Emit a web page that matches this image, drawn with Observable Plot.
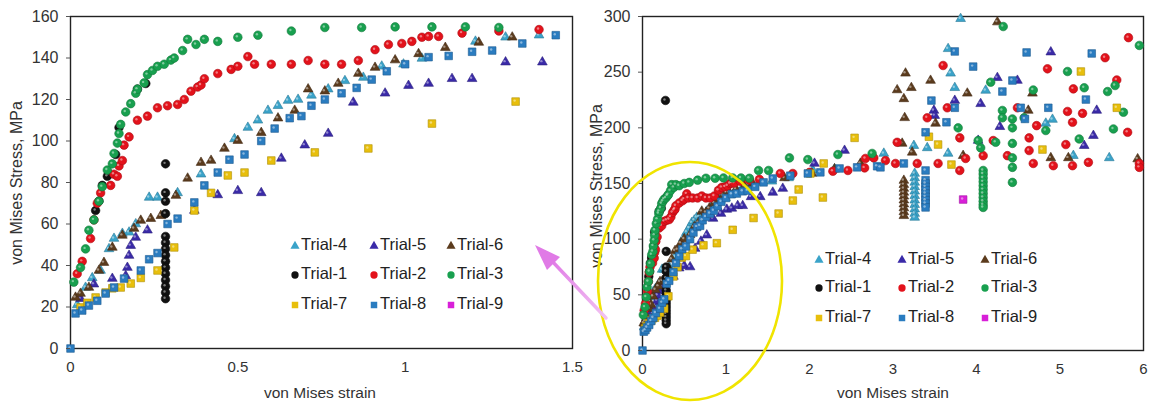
<!DOCTYPE html>
<html><head><meta charset="utf-8">
<script src="https://cdn.jsdelivr.net/npm/d3@7"></script>
<script src="https://cdn.jsdelivr.net/npm/@observablehq/plot@0.6"></script>
<style>
body{margin:0;background:#fff;}
#wrap{position:relative;width:1151px;height:407px;overflow:hidden;background:#fff;font-family:"Liberation Sans",Arial,sans-serif;}
#wrap > svg{position:absolute;top:0;}
</style></head><body><div id="wrap"></div>
<script>
// ---- series (von Mises strain, von Mises stress in MPa) ----
const trials  = ["Trial-4","Trial-5","Trial-6","Trial-1","Trial-2","Trial-3","Trial-7","Trial-8","Trial-9"];
const colors  = ["#3aa3c9","#3a2aa8","#5b3b1d","#111111","#e3121b","#18a04f","#e8bf0c","#2a7cc0","#d81fd8"];
const symbols = ["triangle","triangle","triangle","circle","circle","circle","square","square","square"];

const trial1 = [[0.075,66.5],[0.085,71],[0.095,78.6],[0.11,83],[0.115,84],[0.135,93.5],[0.145,106.5],[0.2,125],[0.225,127.7],
  [0.284,89],[0.284,75],[0.284,71],[0.284,65],[0.284,54],[0.284,51],[0.284,48],[0.284,45],[0.284,42],[0.284,39],[0.284,36],
  [0.284,33],[0.284,30],[0.284,27],[0.284,24],[0.275,224.6]];
const trial2 = [[0.02,36],[0.035,42],[0.06,53],[0.07,62],[0.08,70],[0.09,75],[0.12,78.6],[0.13,84],[0.14,83],[0.145,88],[0.155,90.6],
  [0.16,98],[0.175,102],[0.2,110],[0.23,112],[0.26,116],[0.29,117],[0.32,117.6],[0.34,120],[0.36,124],[0.38,126],[0.39,127],[0.4,130],
  [0.44,132.5],[0.48,134.5],[0.5,136],[0.53,140.7],[0.55,137],[0.6,137],[0.66,137],[0.71,138.8],[0.76,137],[0.81,137],[0.86,138.8],
  [0.91,144],[0.95,146.5],[0.99,147],[1.02,148],[1.05,150],[1.07,150.4],[1.1,150.4],[1.17,152],[1.28,153],[1.4,153.7],
  [1.65,159],[1.8,159],[2.0,160],[2.28,161],[2.46,161.7],[2.66,164],[2.67,172.5],[2.77,173],[2.91,170.6],[3.03,168],[3.05,187],
  [3.29,168],[3.41,209],[3.54,168],[3.6,256],[3.65,218],[3.8,191],[3.8,161.7],[3.87,172.5],[4.08,175],[4.2,188.6],[4.37,175],
  [4.49,218],[4.63,191],[4.63,179.6],[4.68,168],[4.72,202],[4.85,253],[4.92,166],[5.07,185],[5.09,214.7],[5.15,205],[5.15,166],
  [5.16,235],[5.27,213],[5.34,169],[5.54,263],[5.68,243],[5.81,196],[5.82,281],[5.95,168],[5.95,164.5]];
const trial3 = [[0.01,32],[0.03,39],[0.045,48],[0.055,57],[0.07,62],[0.085,71],[0.095,78],[0.11,86],[0.125,89],[0.13,94],[0.14,99],
  [0.145,103.6],[0.15,108],[0.165,114],[0.18,118],[0.195,123],[0.2,125],[0.22,128],[0.23,132],[0.245,134],[0.26,136],[0.28,137],
  [0.3,139],[0.31,140],[0.335,143.6],[0.35,149],[0.375,146.5],[0.4,149],[0.44,148],[0.5,150],[0.56,151],[0.66,153],[0.76,154.7],
  [0.87,154.7],[0.97,155],[1.08,155],[1.18,155],[1.28,154.7],[1.39,161.7],[1.51,161.7],[1.76,173],[1.98,171.5],[2.34,176],[2.75,177],
  [3.78,200],[4.02,188.6],[4.05,182],[4.08,161.7],[4.08,158.5],[4.08,155],[4.08,151.5],[4.08,148],[4.08,144.5],[4.08,141],[4.08,137.5],
  [4.08,134],[4.08,131],[4.08,128.5],[4.17,241],[4.23,187],[4.31,215.6],[4.31,209],[4.32,291],[4.43,208],[4.43,200],[4.43,186],
  [4.43,173],[4.43,164.5],[4.43,151],[4.57,209],[4.68,234],[4.83,197.6],[5.09,250.6],[5.23,190],[5.29,236],[5.57,232.6],[5.64,199],
  [5.66,238],[5.76,214],[5.95,274]];
const trial4 = [[0.02,21],[0.045,29.4],[0.065,34],[0.09,37.6],[0.115,48],[0.13,53],[0.155,55.4],[0.175,56],[0.195,60],[0.235,72.8],
  [0.26,72.8],[0.32,75],[0.39,84],[0.49,101],[0.53,106.5],[0.56,110],[0.59,114.7],[0.62,117],[0.65,119.5],[0.68,120],[0.72,122],
  [0.77,125],[0.82,129],[0.875,130.6],[0.93,136],[0.995,137],[1.05,139.8],[1.21,148],[1.3,150],[1.4,151],[1.55,152],[1.75,155],
  [2.04,162],[2.3,163],[2.59,165],[2.89,177],[3.25,184],[3.26,159],[3.26,155],[3.26,151],[3.26,147],[3.26,143],[3.26,139],[3.26,135],
  [3.26,131],[3.26,127],[3.26,123],[3.26,119.5],[3.41,182],[3.66,271],[3.66,177],[3.69,249],[3.74,236],[3.81,298],[4.11,233.6],
  [4.83,204],[4.91,207.5],[5.16,175],[5.59,173]];
const trial5 = [[0.03,24],[0.07,31],[0.125,33.7],[0.165,35],[0.17,39],[0.175,44.8],[0.18,49.6],[0.195,53.5],[0.23,57],[0.37,66.5],
  [0.44,74],[0.5,76],[0.57,75],[0.63,91.6],[0.7,98],[0.77,103.6],[0.845,118.6],[0.94,123],[1.01,126.7],[1.07,127.7],[1.14,130],
  [1.2,130],[1.3,138],[1.41,138],[1.56,142],[1.68,145.5],[2.06,168],[2.42,179.6],[3.49,215.6],[3.5,211],[3.74,224.5],[4.02,188.6],
  [4.05,221.6],[4.25,245],[4.28,201],[4.49,242.5],[4.89,268],[5.29,184],[5.4,193],[5.44,215.6]];
const trial6 = [[0.015,24.6],[0.03,26.5],[0.055,29.4],[0.085,37.6],[0.1,41.4],[0.125,48.7],[0.155,54.5],[0.19,57.8],[0.21,61.7],
  [0.24,62.6],[0.27,64],[0.315,73.7],[0.35,82],[0.39,89.6],[0.42,90.6],[0.46,96.4],[0.5,100.2],[0.57,104],[0.62,111],[0.67,114.7],
  [0.71,125],[0.76,124],[0.8,127.7],[0.86,132.5],[0.91,135.4],[0.97,139],[1.04,142],[1.12,145],[1.22,147.5],[1.32,150],[1.7,155],
  [2.03,159],[2.3,163],[2.61,168],[3.05,234],[3.11,186],[3.13,226],[3.13,152.7],[3.13,149],[3.13,145.5],[3.13,142],[3.13,138.5],
  [3.13,135],[3.13,131.5],[3.13,128],[3.13,124.5],[3.13,121],[3.14,209],[3.15,249],[3.22,236],[3.23,178],[3.45,242.5],[3.51,204],
  [3.84,175],[3.89,231],[4.25,295],[4.62,215.6],[4.67,231],[4.89,173],[5.1,173],[5.93,172]];
const trial7 = [[0.03,19.8],[0.05,22],[0.075,24.6],[0.105,27],[0.125,29],[0.15,29.4],[0.18,31.3],[0.21,34],[0.26,37.6],[0.31,48.7],
  [0.37,66.5],[0.42,75],[0.47,83.4],[0.52,84.8],[0.6,90.6],[0.73,94.5],[0.89,96.4],[1.08,108.4],[1.33,119],[1.63,123],[1.8,134.7],
  [1.87,144.6],[2.01,159],[2.16,137.4],[2.17,168],[2.54,191],[3.43,192],[3.54,185],[3.7,167],[4.79,180.5],[5.25,250.6],[5.68,218]];
const trial8 = [[0,0],[0.015,16.9],[0.035,18.3],[0.055,20.7],[0.08,23],[0.105,26.5],[0.13,29.4],[0.16,33.7],[0.21,37.6],[0.235,43],
  [0.26,46],[0.29,60],[0.32,62.6],[0.37,70.4],[0.4,78.6],[0.44,84.8],[0.475,91],[0.52,93.5],[0.57,100],[0.61,106],[0.655,111],
  [0.69,112],[0.72,117],[0.76,120],[0.81,123],[0.855,125.6],[0.9,129.6],[0.945,133.6],[1.0,137],[1.07,140.4],[1.13,141],[1.2,143],
  [1.26,143.6],[1.35,147],[1.45,151],[1.56,154.5],[1.77,157],[1.98,159],[2.13,160],[2.36,163.5],[2.57,164.5],[2.81,165.5],[2.85,164.5],
  [3.13,168],[3.39,196],[3.39,161.7],[3.39,153],[3.39,150],[3.39,147],[3.39,144],[3.39,141],[3.39,138],[3.39,135],[3.39,132],
  [3.39,128.5],[3.46,224.5],[3.64,205],[3.74,268.6],[3.74,218],[3.96,255],[4.31,232.6],[4.43,242.5],[4.53,218],[4.58,208],
  [4.6,267.7],[4.86,218],[5.31,225.4],[5.38,266.8]];
const trial9 = [[3.84,135.6]];

const leftXTicks  = [0, 0.5, 1, 1.5];
const leftYTicks  = [0, 20, 40, 60, 80, 100, 120, 140, 160];
const rightXTicks = [0, 1, 2, 3, 4, 5, 6];
const rightYTicks = [0, 50, 100, 150, 200, 250, 300];
const xTitle = "von Mises strain";
const yTitle = "von Mises Stress, MPa";

const seriesByTrial = {"Trial-1":trial1,"Trial-2":trial2,"Trial-3":trial3,"Trial-4":trial4,"Trial-5":trial5,
  "Trial-6":trial6,"Trial-7":trial7,"Trial-8":trial8,"Trial-9":trial9};

const FONT = "Liberation Sans, Arial, sans-serif";
const sizeOf = s => s === "triangle" ? 3.6 : 4.3;

function dotMarks(xDomain, yDomain) {
  const marks = [];
  trials.forEach((t, i) => {
    const rows = seriesByTrial[t].map(([x, y]) => ({x, y}))
      .filter(d => d.x <= xDomain[1] && d.y <= yDomain[1]);
    marks.push(Plot.dot(rows, {x: "x", y: "y", symbol: symbols[i], fill: colors[i], r: sizeOf(symbols[i]),
      stroke: d3.color(colors[i]).darker(0.8).formatHex(), strokeWidth: 0.6}));
    marks.push(Plot.dot(rows, {x: "x", y: "y", r: 1.2, fill: "#fff", fillOpacity: 0.45, dx: -1, dy: -1}));
  });
  return marks;
}

const fmt = d => String(d);

function panel({width, ml, mr, mb, xDomain, xTicks, yDomain, yTicks}) {
  return Plot.plot({
    width, height: 407, marginLeft: ml, marginRight: mr, marginTop: 16, marginBottom: mb,
    style: {fontFamily: FONT, color: "#333", background: "transparent", overflow: "visible"},
    x: {domain: xDomain}, y: {domain: yDomain},
    marks: [
      Plot.frame({stroke: "#222", strokeWidth: 1.4, strokeOpacity: 1}),
      ...dotMarks(xDomain, yDomain),
      Plot.axisX({ticks: xTicks, tickSize: 0, tickPadding: 13, label: null, fontSize: 15, fill: "#333", tickFormat: fmt}),
      Plot.axisY({ticks: yTicks, tickSize: 4, tickPadding: 8, label: null, fontSize: 16, fill: "#333", stroke: "#555", tickFormat: fmt})
    ]
  });
}

const wrap = document.getElementById("wrap");
const left = panel({width: 590, ml: 70, mr: 18, mb: 59, xDomain: [0, 1.5], xTicks: leftXTicks, yDomain: [0, 160], yTicks: leftYTicks});
left.style.left = "0px";
wrap.appendChild(left);
const right = panel({width: 561, ml: 52, mr: 8, mb: 57, xDomain: [0, 6], xTicks: rightXTicks, yDomain: [0, 300], yTicks: rightYTicks});
right.style.left = "590px";
wrap.appendChild(right);

// ---- overlay: titles, legends, annotation ----
const ov = d3.select(wrap).append("svg").attr("width", 1151).attr("height", 407)
  .style("left", "0px").style("pointer-events", "none").style("font-family", FONT);

function yLabel(x, y) {
  ov.append("text").attr("transform", `translate(${x},${y}) rotate(-90)`).attr("text-anchor", "middle")
    .attr("dominant-baseline", "middle").attr("font-size", 16).attr("fill", "#333").text(yTitle);
}
function xLabel(x, y) {
  ov.append("text").attr("x", x).attr("y", y).attr("text-anchor", "middle").attr("font-size", 15.5)
    .attr("fill", "#333").text(xTitle);
}
yLabel(18, 183); yLabel(598, 186);
xLabel(320, 398); xLabel(893, 398);

function legend(colX, rowY) {
  trials.forEach((t, i) => {
    const cx = colX[i % 3], cy = rowY[Math.floor(i / 3)];
    const sym = symbols[i] === "triangle" ? d3.symbolTriangle : symbols[i] === "circle" ? d3.symbolCircle : d3.symbolSquare;
    ov.append("path").attr("d", d3.symbol(sym, symbols[i] === "triangle" ? 36 : 42)())
      .attr("transform", `translate(${cx},${cy})`).attr("fill", colors[i]);
    ov.append("text").attr("x", cx + 6).attr("y", cy).attr("dominant-baseline", "middle")
      .attr("font-size", 16.5).attr("fill", "#222").text(t);
  });
}
legend([295, 374, 451], [246, 275, 305]);
legend([819, 902, 985], [260, 288, 318]);

// yellow highlight ellipse and pink arrow
ov.append("ellipse").attr("cx", 690).attr("cy", 281).attr("rx", 92).attr("ry", 119)
  .attr("fill", "none").attr("stroke", "#f0e400").attr("stroke-width", 2.6);
const defs = ov.append("defs");
const g = defs.append("linearGradient").attr("id", "arr").attr("x1", "0").attr("y1", "0").attr("x2", "1").attr("y2", "1");
g.append("stop").attr("offset", "0%").attr("stop-color", "#e07ae6");
g.append("stop").attr("offset", "100%").attr("stop-color", "#f2c3f2");
ov.append("line").attr("x1", 606).attr("y1", 318).attr("x2", 550).attr("y2", 259)
  .attr("stroke", "url(#arr)").attr("stroke-width", 3.5).attr("stroke-linecap", "round");
ov.append("path").attr("d", "M535,245 L560,257 L547,270 Z").attr("fill", "#e07ae6");
</script></body></html>
